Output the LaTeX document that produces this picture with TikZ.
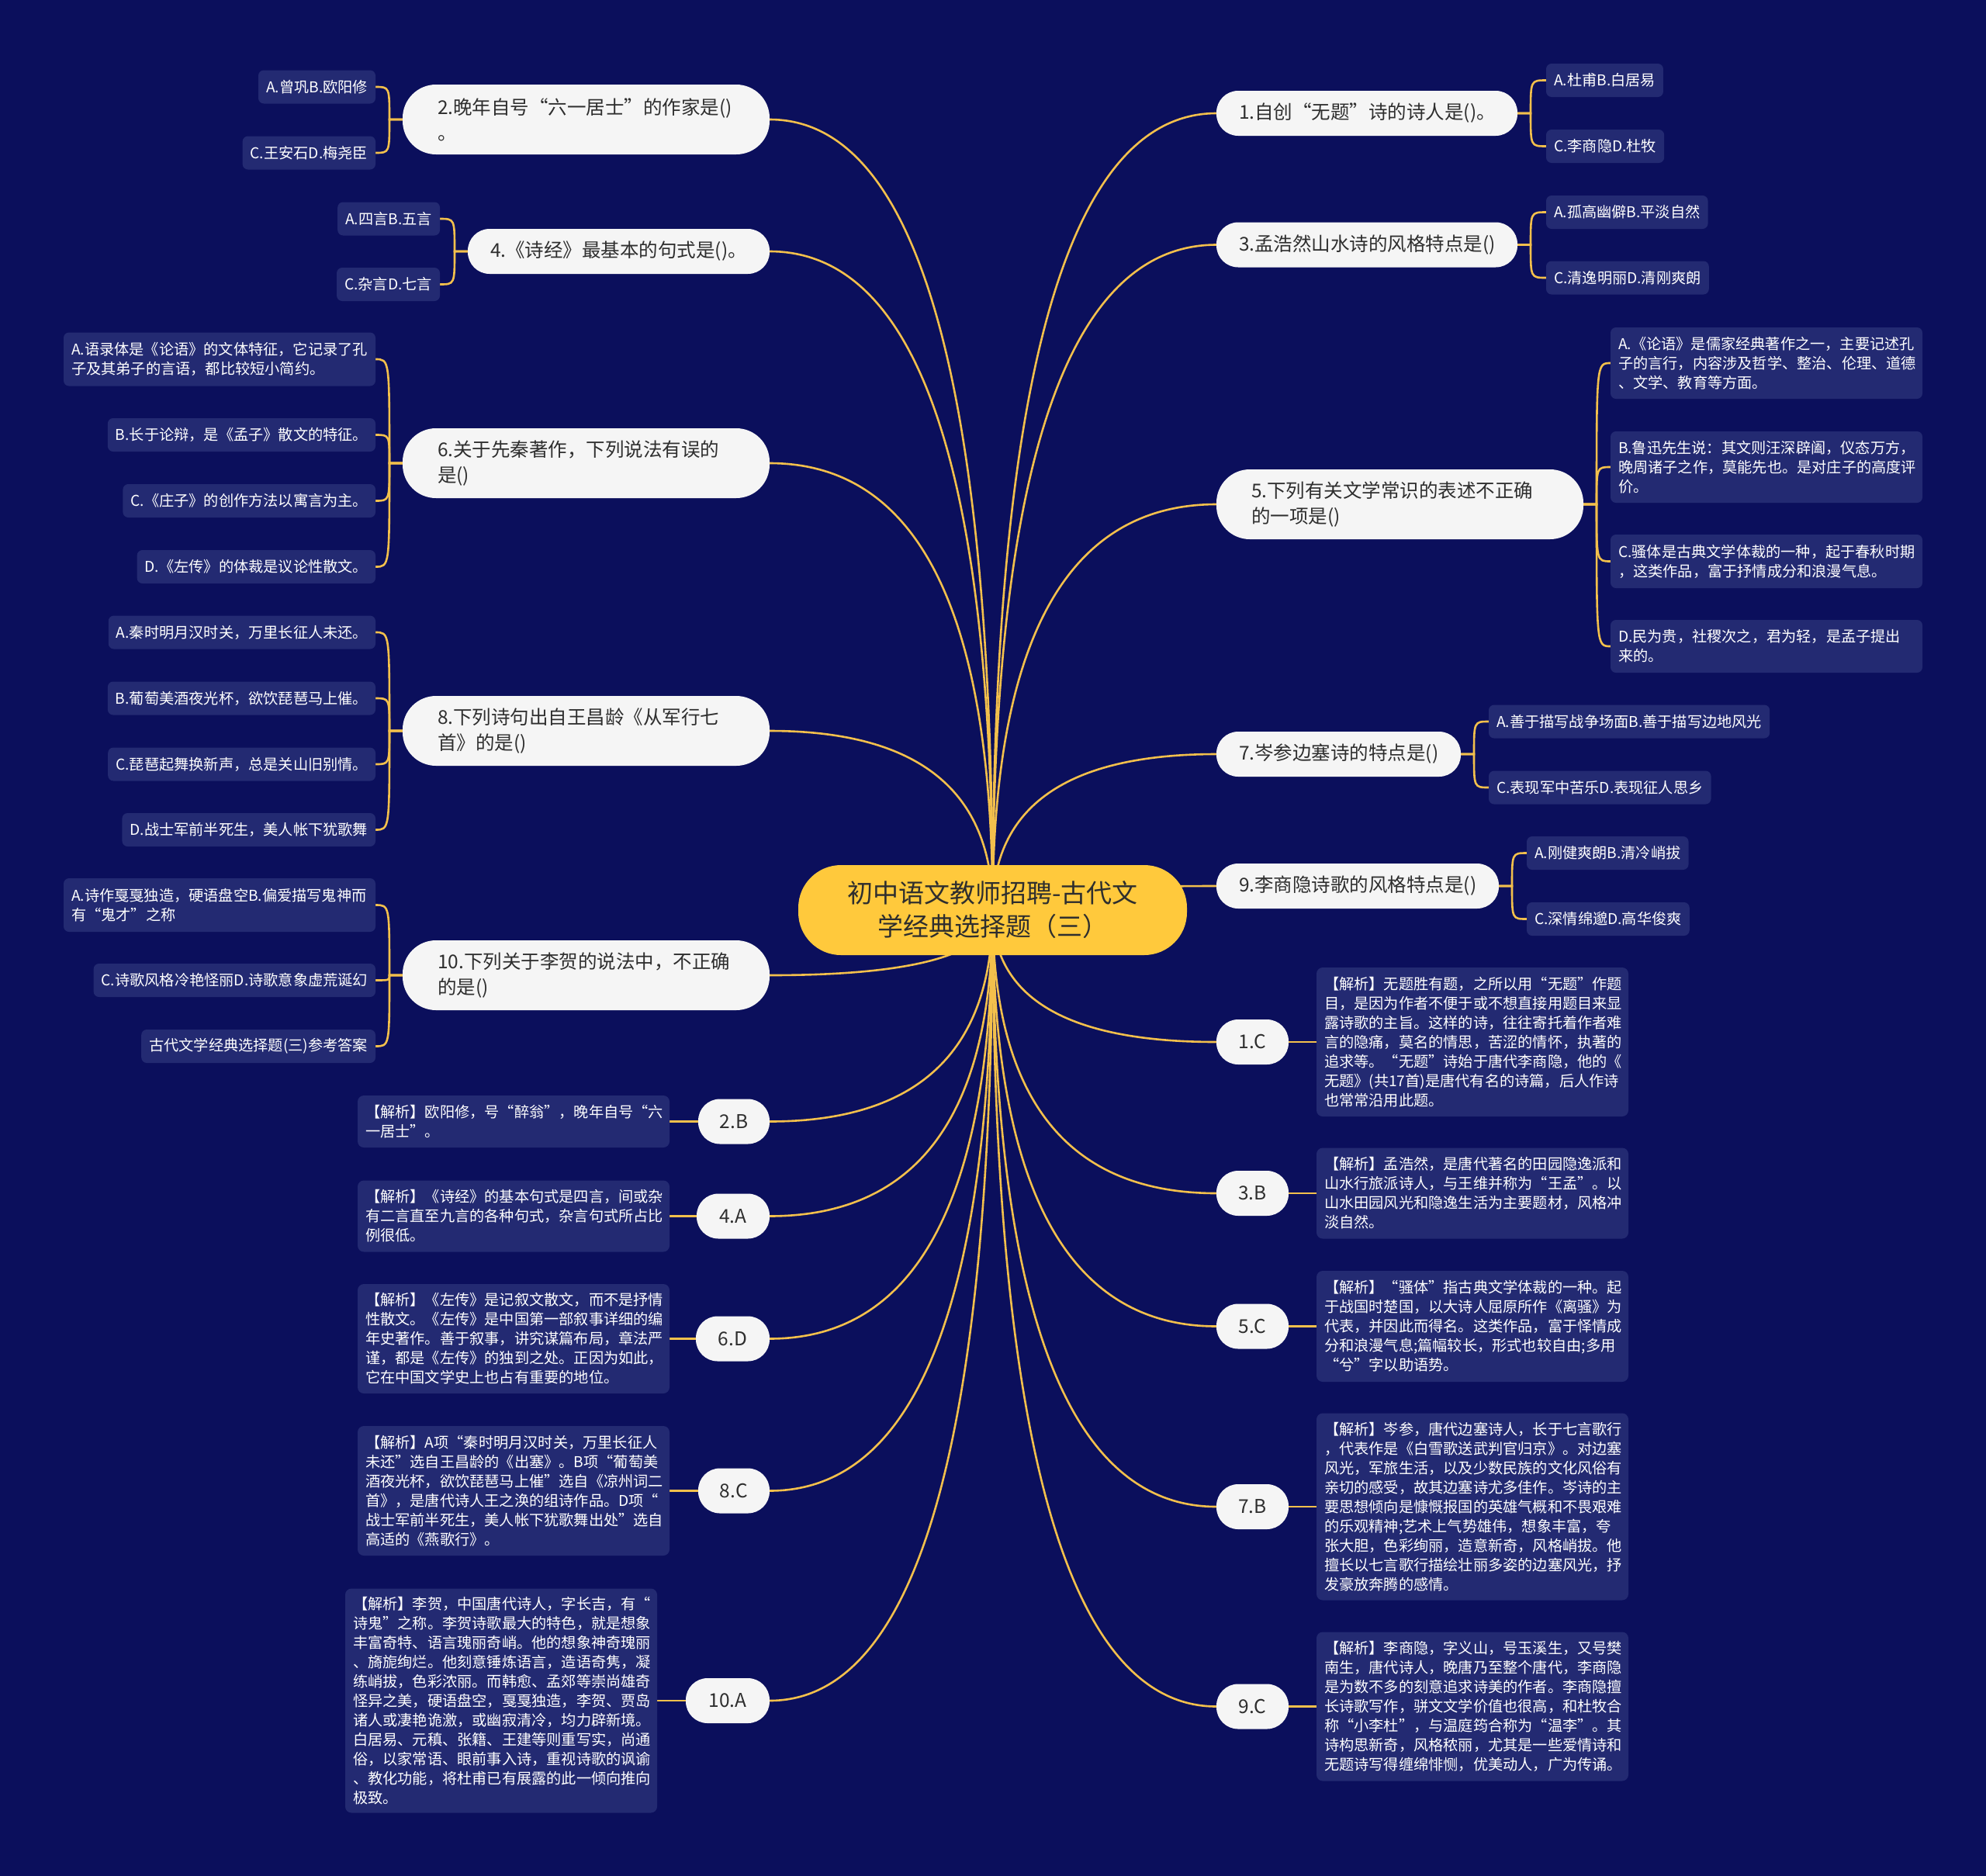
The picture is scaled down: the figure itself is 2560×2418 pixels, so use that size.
\documentclass[tikz,border=0pt]{standalone}
\usepackage{fontspec}
\setmainfont{Noto Sans CJK SC}
\usetikzlibrary{calc}
\definecolor{bgnavy}{HTML}{0B0F5C}
\definecolor{leafblue}{HTML}{232A72}
\definecolor{pillwhite}{HTML}{F5F5F5}
\definecolor{goldline}{HTML}{F3C04C}
\definecolor{goldfill}{HTML}{FFC93C}
\definecolor{darktext}{HTML}{2E2E2E}
\pgfdeclarelayer{bglayer}
\pgfdeclarelayer{linelayer}
\pgfsetlayers{bglayer,linelayer,main}
\tikzset{
  every node/.style={inner sep=0pt, outer sep=0pt},
  pill/.style={fill=pillwhite, text=darktext, font=\fontsize{24.5}{33}\selectfont, align=left, rounded corners=28pt, minimum height=58pt},
  pilltwo/.style={pill, rounded corners=43pt, minimum height=90pt, inner xsep=45pt},
  pillone/.style={pill, inner xsep=29pt},
  ansbox/.style={fill=pillwhite, text=darktext, font=\fontsize{24.5}{30}\selectfont, rounded corners=28pt, minimum height=58pt, align=center},
  leaf/.style={fill=leafblue, text=white, font=\fontsize{19.2}{25}\selectfont, align=left, rounded corners=7pt, inner xsep=10pt, inner ysep=0pt, minimum height=43pt},
  expl/.style={leaf, text width=382pt, rounded corners=8pt},
  centre/.style={fill=goldfill, text=darktext, font=\fontsize{33}{43}\selectfont, align=center, rounded corners=55pt, minimum width=501pt, minimum height=116pt},
  link/.style={draw=goldline, line width=2.6pt},
}
\newcommand\hublink[1]{\path (ctr.center |- #1) coordinate (hk);
  \draw[link] (ctr.center) .. controls ($(ctr.center)!0.6667!(hk)$) and ($(#1)!0.6667!(hk)$) .. (#1);}
\newcommand\forkright[2]{\path (#1.east) ++(17,0) coordinate (fj); \draw[link] (#1.east) -- (fj) .. controls (fj |- #2.west) and (fj |- #2.west) .. (#2.west);}
\newcommand\forkleft[2]{\path (#1.west) ++(-17,0) coordinate (fj); \draw[link] (#1.west) -- (fj) .. controls (fj |- #2.east) and (fj |- #2.east) .. (#2.east);}
\begin{document}
\begin{tikzpicture}[x=1pt,y=-1pt]
\begin{pgfonlayer}{bglayer}
\fill[bgnavy] (0,0) rectangle (2560,2418);
\end{pgfonlayer}
\useasboundingbox (0,0) rectangle (2560,2418);

% centre
\node[centre] (ctr) at (1279.5,1173) {初中语文教师招聘-古代文\\学经典选择题（三）};

% right questions
\node[pillone, anchor=west, text width=330pt] (q1) at (1568,146) {1.自创“无题”诗的诗人是()。};
\node[pillone, anchor=west, text width=330pt] (q3) at (1568,315.5) {3.孟浩然山水诗的风格特点是()};
\node[pilltwo, anchor=west, text width=383pt] (q5) at (1568,650) {5.下列有关文学常识的表述不正确\\的一项是()};
\node[pillone, anchor=west, text width=257pt] (q7) at (1568,972) {7.岑参边塞诗的特点是()};
\node[pillone, anchor=west, text width=306pt] (q9) at (1568,1142) {9.李商隐诗歌的风格特点是()};

% left questions
\node[pilltwo, anchor=east, text width=383pt] (q2) at (992,154) {2.晚年自号“六一居士”的作家是()\\。};
\node[pillone, anchor=east, text width=331pt] (q4) at (992,324) {4.《诗经》最基本的句式是()。};
\node[pilltwo, anchor=east, text width=383pt] (q6) at (992,597) {6.关于先秦著作，下列说法有误的\\是()};
\node[pilltwo, anchor=east, text width=383pt] (q8) at (992,942) {8.下列诗句出自王昌龄《从军行七\\首》的是()};
\node[pilltwo, anchor=east, text width=383pt] (q10) at (992,1257) {10.下列关于李贺的说法中，不正确\\的是()};

% right leaves
\node[leaf, anchor=west] (l1a) at (1993,103.5) {A.杜甫B.白居易};
\node[leaf, anchor=west] (l1c) at (1993,188.5) {C.李商隐D.杜牧};
\node[leaf, anchor=west] (l3a) at (1993,273.5) {A.孤高幽僻B.平淡自然};
\node[leaf, anchor=west] (l3c) at (1993,358) {C.清逸明丽D.清刚爽朗};
\node[leaf, anchor=west, text width=382pt, minimum height=92pt] (l5a) at (2076,468) {A.《论语》是儒家经典著作之一，主要记述孔\\子的言行，内容涉及哲学、整治、伦理、道德\\、文学、教育等方面。};
\node[leaf, anchor=west, text width=382pt, minimum height=92pt] (l5b) at (2076,602) {B.鲁迅先生说：其文则汪深辟阖，仪态万方，\\晚周诸子之作，莫能先也。是对庄子的高度评\\价。};
\node[leaf, anchor=west, text width=382pt, minimum height=69pt] (l5c) at (2076,723.5) {C.骚体是古典文学体裁的一种，起于春秋时期\\，这类作品，富于抒情成分和浪漫气息。};
\node[leaf, anchor=west, text width=382pt, minimum height=68pt] (l5d) at (2076,833) {D.民为贵，社稷次之，君为轻，是孟子提出\\来的。};
\node[leaf, anchor=west] (l7a) at (1919,930) {A.善于描写战争场面B.善于描写边地风光};
\node[leaf, anchor=west] (l7c) at (1919,1015) {C.表现军中苦乐D.表现征人思乡};
\node[leaf, anchor=west] (l9a) at (1968,1099.5) {A.刚健爽朗B.清冷峭拔};
\node[leaf, anchor=west] (l9c) at (1968,1184.5) {C.深情绵邈D.高华俊爽};

% left leaves
\node[leaf, anchor=east] (l2a) at (484,112) {A.曾巩B.欧阳修};
\node[leaf, anchor=east] (l2c) at (484,197) {C.王安石D.梅尧臣};
\node[leaf, anchor=east] (l4a) at (567,282) {A.四言B.五言};
\node[leaf, anchor=east] (l4c) at (567,366.5) {C.杂言D.七言};
\node[leaf, anchor=east, text width=382pt, minimum height=69pt] (l6a) at (484,463) {A.语录体是《论语》的文体特征，它记录了孔\\子及其弟子的言语，都比较短小简约。};
\node[leaf, anchor=east] (l6b) at (484,560.5) {B.长于论辩，是《孟子》散文的特征。};
\node[leaf, anchor=east] (l6c) at (484,645.5) {C.《庄子》的创作方法以寓言为主。};
\node[leaf, anchor=east] (l6d) at (484,730.5) {D.《左传》的体裁是议论性散文。};
\node[leaf, anchor=east] (l8a) at (484,815) {A.秦时明月汉时关，万里长征人未还。};
\node[leaf, anchor=east] (l8b) at (484,900) {B.葡萄美酒夜光杯，欲饮琵琶马上催。};
\node[leaf, anchor=east] (l8c) at (484,985) {C.琵琶起舞换新声，总是关山旧别情。};
\node[leaf, anchor=east] (l8d) at (484,1069.5) {D.战士军前半死生，美人帐下犹歌舞};
\node[leaf, anchor=east, text width=382pt, minimum height=69pt] (l10a) at (484,1166.5) {A.诗作戛戛独造，硬语盘空B.偏爱描写鬼神而\\有“鬼才”之称};
\node[leaf, anchor=east] (l10b) at (484,1263.5) {C.诗歌风格冷艳怪丽D.诗歌意象虚荒诞幻};
\node[leaf, anchor=east] (l10c) at (484,1348.5) {古代文学经典选择题(三)参考答案};

% right answers
\node[ansbox, anchor=west, minimum width=93pt] (a1) at (1568,1343) {1.C};
\node[ansbox, anchor=west, minimum width=93pt] (a3) at (1568,1538) {3.B};
\node[ansbox, anchor=west, minimum width=93pt] (a5) at (1568,1709.5) {5.C};
\node[ansbox, anchor=west, minimum width=93pt] (a7) at (1568,1942) {7.B};
\node[ansbox, anchor=west, minimum width=93pt] (a9) at (1568,2199.5) {9.C};

% left answers
\node[ansbox, anchor=east, minimum width=92pt] (a2) at (992,1445.5) {2.B};
\node[ansbox, anchor=east, minimum width=94pt] (a4) at (992,1567.5) {4.A};
\node[ansbox, anchor=east, minimum width=95pt] (a6) at (992,1725.5) {6.D};
\node[ansbox, anchor=east, minimum width=92pt] (a8) at (992,1921.5) {8.C};
\node[ansbox, anchor=east, minimum width=108pt] (a10) at (992,2192) {10.A};

% right explanations
\node[expl, anchor=west, minimum height=192pt] (e1) at (1697,1343) {【解析】无题胜有题，之所以用“无题”作题\\目，是因为作者不便于或不想直接用题目来显\\露诗歌的主旨。这样的诗，往往寄托着作者难\\言的隐痛，莫名的情思，苦涩的情怀，执著的\\追求等。“无题”诗始于唐代李商隐，他的《\\无题》(共17首)是唐代有名的诗篇，后人作诗\\也常常沿用此题。};
\node[expl, anchor=west, minimum height=117pt] (e3) at (1697,1538) {【解析】孟浩然，是唐代著名的田园隐逸派和\\山水行旅派诗人，与王维并称为“王孟”。以\\山水田园风光和隐逸生活为主要题材，风格冲\\淡自然。};
\node[expl, anchor=west, minimum height=143pt] (e5) at (1697,1709.5) {【解析】“骚体”指古典文学体裁的一种。起\\于战国时楚国，以大诗人屈原所作《离骚》为\\代表，并因此而得名。这类作品，富于怿情成\\分和浪漫气息;篇幅较长，形式也较自由;多用\\“兮”字以助语势。};
\node[expl, anchor=west, minimum height=241pt] (e7) at (1697,1942) {【解析】岑参，唐代边塞诗人，长于七言歌行\\，代表作是《白雪歌送武判官归京》。对边塞\\风光，军旅生活，以及少数民族的文化风俗有\\亲切的感受，故其边塞诗尤多佳作。岑诗的主\\要思想倾向是慷慨报国的英雄气概和不畏艰难\\的乐观精神;艺术上气势雄伟，想象丰富，夸\\张大胆，色彩绚丽，造意新奇，风格峭拔。他\\擅长以七言歌行描绘壮丽多姿的边塞风光，抒\\发豪放奔腾的感情。};
\node[expl, anchor=west, minimum height=192pt] (e9) at (1697,2199.5) {【解析】李商隐，字义山，号玉溪生，又号樊\\南生，唐代诗人，晚唐乃至整个唐代，李商隐\\是为数不多的刻意追求诗美的作者。李商隐擅\\长诗歌写作，骈文文学价值也很高，和杜牧合\\称“小李杜”，与温庭筠合称为“温李”。其\\诗构思新奇，风格秾丽，尤其是一些爱情诗和\\无题诗写得缠绵悱恻，优美动人，广为传诵。};

% left explanations
\node[expl, anchor=east, minimum height=67pt] (e2) at (863,1445.5) {【解析】欧阳修，号“醉翁”，晚年自号“六\\一居士”。};
\node[expl, anchor=east, minimum height=92pt] (e4) at (863,1567.5) {【解析】《诗经》的基本句式是四言，间或杂\\有二言直至九言的各种句式，杂言句式所占比\\例很低。};
\node[expl, anchor=east, minimum height=141pt] (e6) at (863,1725.5) {【解析】《左传》是记叙文散文，而不是抒情\\性散文。《左传》是中国第一部叙事详细的编\\年史著作。善于叙事，讲究谋篇布局，章法严\\谨，都是《左传》的独到之处。正因为如此，\\它在中国文学史上也占有重要的地位。};
\node[expl, anchor=east, minimum height=167pt] (e8) at (863,1921.5) {【解析】A项“秦时明月汉时关，万里长征人\\未还”选自王昌龄的《出塞》。B项“葡萄美\\酒夜光杯，欲饮琵琶马上催”选自《凉州词二\\首》，是唐代诗人王之涣的组诗作品。D项“\\战士军前半死生，美人帐下犹歌舞出处”选自\\高适的《燕歌行》。};
\node[expl, anchor=east, minimum height=289pt] (e10) at (847,2192) {【解析】李贺，中国唐代诗人，字长吉，有“\\诗鬼”之称。李贺诗歌最大的特色，就是想象\\丰富奇特、语言瑰丽奇峭。他的想象神奇瑰丽\\、旖旎绚烂。他刻意锤炼语言，造语奇隽，凝\\练峭拔，色彩浓丽。而韩愈、孟郊等崇尚雄奇\\怪异之美，硬语盘空，戛戛独造，李贺、贾岛\\诸人或凄艳诡激，或幽寂清冷，均力辟新境。\\白居易、元稹、张籍、王建等则重写实，尚通\\俗，以家常语、眼前事入诗，重视诗歌的讽谕\\、教化功能，将杜甫已有展露的此一倾向推向\\极致。};

\begin{pgfonlayer}{linelayer}
\hublink{q1.west}\hublink{q3.west}\hublink{q5.west}\hublink{q7.west}\hublink{q9.west}
\hublink{q2.east}\hublink{q4.east}\hublink{q6.east}\hublink{q8.east}\hublink{q10.east}
\hublink{a1.west}\hublink{a3.west}\hublink{a5.west}\hublink{a7.west}\hublink{a9.west}
\hublink{a2.east}\hublink{a4.east}\hublink{a6.east}\hublink{a8.east}\hublink{a10.east}
\forkright{q1}{l1a}\forkright{q1}{l1c}
\forkright{q3}{l3a}\forkright{q3}{l3c}
\forkright{q5}{l5a}\forkright{q5}{l5b}\forkright{q5}{l5c}\forkright{q5}{l5d}
\forkright{q7}{l7a}\forkright{q7}{l7c}
\forkright{q9}{l9a}\forkright{q9}{l9c}
\forkleft{q2}{l2a}\forkleft{q2}{l2c}
\forkleft{q4}{l4a}\forkleft{q4}{l4c}
\forkleft{q6}{l6a}\forkleft{q6}{l6b}\forkleft{q6}{l6c}\forkleft{q6}{l6d}
\forkleft{q8}{l8a}\forkleft{q8}{l8b}\forkleft{q8}{l8c}\forkleft{q8}{l8d}
\forkleft{q10}{l10a}\forkleft{q10}{l10b}\forkleft{q10}{l10c}
\draw[link] (a1.east) -- (e1.west);
\draw[link] (a3.east) -- (e3.west);
\draw[link] (a5.east) -- (e5.west);
\draw[link] (a7.east) -- (e7.west);
\draw[link] (a9.east) -- (e9.west);
\draw[link] (a2.west) -- (e2.east);
\draw[link] (a4.west) -- (e4.east);
\draw[link] (a6.west) -- (e6.east);
\draw[link] (a8.west) -- (e8.east);
\draw[link] (a10.west) -- (e10.east);
\end{pgfonlayer}
\end{tikzpicture}
\end{document}
